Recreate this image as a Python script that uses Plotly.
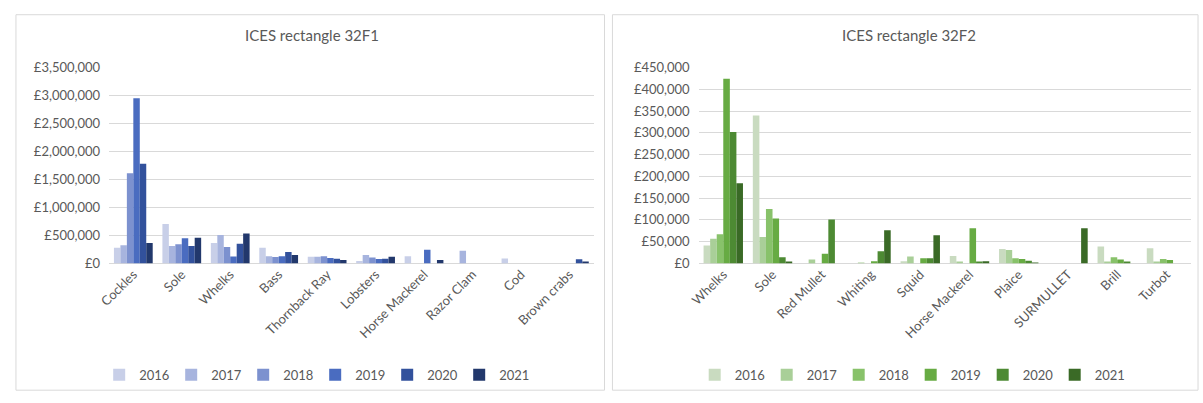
import plotly.graph_objects as go

W, H = 1203, 403

years = ["2016", "2017", "2018", "2019", "2020", "2021"]

# Left chart: ICES rectangle 32F1
cats_left = ["Cockles", "Sole", "Whelks", "Bass", "Thornback Ray", "Lobsters",
             "Horse Mackerel", "Razor Clam", "Cod", "Brown crabs"]
left_2016 = [282000, 705000, 367000, 282000, 118000, 45000, 130000, 0, 90000, 0]
left_2017 = [327000, 310000, 508000, 130000, 118000, 152000, 0, 225000, 0, 0]
left_2018 = [1610000, 344000, 293000, 113000, 130000, 107000, 0, 0, 0, 0]
left_2019 = [2950000, 451000, 124000, 130000, 96000, 79000, 243000, 0, 0, 0]
left_2020 = [1780000, 310000, 350000, 203000, 85000, 85000, 0, 0, 0, 73000]
left_2021 = [367000, 457000, 536000, 152000, 62000, 118000, 62000, 0, 0, 28000]
left_series = [left_2016, left_2017, left_2018, left_2019, left_2020, left_2021]
left_ticks = list(range(0, 3500001, 500000))

# Right chart: ICES rectangle 32F2
cats_right = ["Whelks", "Sole", "Red Mullet", "Whiting", "Squid", "Horse Mackerel",
              "Plaice", "SURMULLET", "Brill", "Turbot"]
right_2016 = [41000, 340000, 0, 0, 5000, 17000, 33000, 0, 39000, 35000]
right_2017 = [57000, 61000, 9000, 2000, 16000, 3000, 31000, 0, 3000, 3000]
right_2018 = [67000, 125000, 0, 0, 0, 0, 12000, 0, 14000, 10000]
right_2019 = [424000, 103000, 22000, 5000, 12000, 81000, 10000, 0, 9000, 8000]
right_2020 = [302000, 14000, 101000, 28000, 12000, 4000, 6000, 0, 4000, 0]
right_2021 = [184000, 4000, 0, 76000, 65000, 5000, 1000, 81000, 0, 0]
right_series = [right_2016, right_2017, right_2018, right_2019, right_2020, right_2021]
right_ticks = list(range(0, 450001, 50000))

blues = ["#c8cfe8", "#a7b4de", "#7c91cf", "#4a6cc0", "#32519c", "#22386c"]
greens = ["#c9dbc0", "#a9cf98", "#88c26a", "#67ab43", "#4d8a33", "#3a6a26"]

FONT = "Lato, Open Sans, sans-serif"
TXT = "#595959"
GRID = "#d9d9d9"
POUND = "\u00a3"


def money(v):
    return POUND + "{:,}".format(v)


def px_x(p):
    return p / W


def px_y(p):
    return 1 - p / H


fig = go.Figure()

for yr, vals, col in zip(years, left_series, blues):
    fig.add_trace(go.Bar(name=yr, x=cats_left, y=vals, marker_color=col,
                         marker_line_width=0, xaxis="x", yaxis="y", legend="legend"))
for yr, vals, col in zip(years, right_series, greens):
    fig.add_trace(go.Bar(name=yr, x=cats_right, y=vals, marker_color=col,
                         marker_line_width=0, xaxis="x2", yaxis="y2", legend="legend2"))

ydom = [px_y(266), px_y(62)]

axis_common_x = dict(tickangle=-45, showgrid=False, showline=False, ticks="",
                     tickfont=dict(family=FONT, size=13, color=TXT), fixedrange=True)
axis_common_y = dict(showgrid=True, gridcolor=GRID, gridwidth=1, zeroline=True,
                     zerolinecolor=GRID, zerolinewidth=1, showline=False, ticks="",
                     ticklabelstandoff=8,
                     tickfont=dict(family=FONT, size=13, color=TXT))

legend_common = dict(orientation="h", yanchor="middle", y=px_y(382),
                     font=dict(family=FONT, size=13, color=TXT),
                     itemwidth=30, entrywidth=27, entrywidthmode="pixels",
                     bgcolor="rgba(0,0,0,0)", traceorder="normal")

fig.update_layout(
    width=W, height=H,
    margin=dict(l=0, r=0, t=0, b=0),
    paper_bgcolor="white", plot_bgcolor="white",
    barmode="group", bargap=0.2, bargroupgap=0.0,
    showlegend=True,
    xaxis=dict(domain=[px_x(99), px_x(588)], anchor="y", **axis_common_x),
    yaxis=dict(domain=ydom, anchor="x", range=[0, 3500000], tickvals=left_ticks,
               ticktext=[money(v) for v in left_ticks], **axis_common_y),
    xaxis2=dict(domain=[px_x(694), px_x(1191)], anchor="y2", **axis_common_x),
    yaxis2=dict(domain=ydom, anchor="x2", range=[0, 450000], tickvals=right_ticks,
                ticktext=[money(v) for v in right_ticks], **axis_common_y),
    legend=dict(x=px_x(307), xanchor="center", **legend_common),
    legend2=dict(x=px_x(908), xanchor="center", **legend_common),
    shapes=[
        dict(type="rect", xref="paper", yref="paper", x0=px_x(5), x1=px_x(599),
             y0=px_y(398), y1=px_y(7), line=dict(color=GRID, width=1), layer="below"),
        dict(type="rect", xref="paper", yref="paper", x0=px_x(607), x1=px_x(1198),
             y0=px_y(398), y1=px_y(7), line=dict(color=GRID, width=1), layer="below"),
    ],
    annotations=[
        dict(text="ICES rectangle 32F1", x=px_x(304), y=px_y(28), xref="paper",
             yref="paper", showarrow=False, xanchor="center", yanchor="middle",
             font=dict(family=FONT, size=15, color=TXT)),
        dict(text="ICES rectangle 32F2", x=px_x(906), y=px_y(28), xref="paper",
             yref="paper", showarrow=False, xanchor="center", yanchor="middle",
             font=dict(family=FONT, size=15, color=TXT)),
    ],
)

fig.write_html("out.html", config={"displayModeBar": False},
               post_script="document.body.style.margin='0';document.body.style.overflow='hidden';")
